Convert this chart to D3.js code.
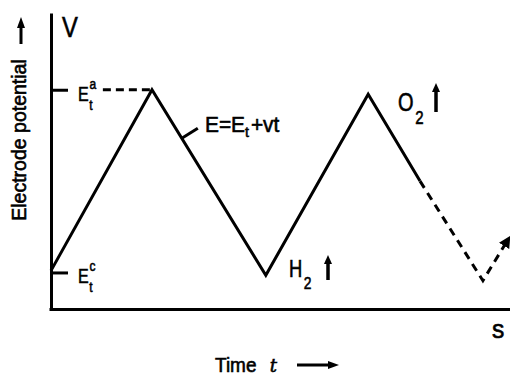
<!DOCTYPE html>
<html>
<head>
<meta charset="utf-8">
<script src="https://cdn.jsdelivr.net/npm/d3@7"></script>
<style>
  html, body { margin: 0; padding: 0; background: #fff; }
  svg { display: block; }
  text { fill: #000; stroke: #000; stroke-width: 0.6px; font-family: "Liberation Sans", Arial, sans-serif; }
</style>
</head>
<body>
<svg id="chart" width="510" height="376"></svg>
<script>
// Triangular potential sweep: electrode potential E against time t
// Potential is expressed relative to the cathodic (Et^c = 0) and anodic (Et^a = 1) turning points.
const sweepTime      = [0, 2.2, 4.68, 6.91, 8.04];
const sweepPotential = [0.01, 1.0, -0.015, 0.975, 0.5];

// continuation of the sweep, drawn dashed
const nextTime      = [8.04, 9.41, 9.98];
const nextPotential = [0.5, -0.045, 0.19];

// turning-point levels marked on the potential axis
const levelNames  = ["a", "c"];
const levelValues = [1, 0];

// dashed guide from the Et^a label to the first anodic peak
const guideTime      = [1.13, 2.17];
const guidePotential = [1, 1];

const svg = d3.select("#chart");

const x = d3.scaleLinear().domain([0, 10]).range([51, 510]);
const y = d3.scaleLinear().domain([-0.2, 1.42]).range([309, 13]);

// arrowhead marker
const defs = svg.append("defs");
defs.append("marker")
  .attr("id", "head")
  .attr("viewBox", "0 0 10 10")
  .attr("refX", 8).attr("refY", 5)
  .attr("markerWidth", 4).attr("markerHeight", 4)
  .attr("markerUnits", "strokeWidth")
  .attr("orient", "auto")
  .append("path").attr("d", "M0,0 L10,5 L0,10 z").attr("fill", "#000");

// potential axis with inward ticks at the turning points
const yAxis = svg.append("g")
  .attr("transform", `translate(${x(0)},0)`)
  .call(d3.axisRight(y).tickValues(levelValues).tickSize(17).tickSizeOuter(0).tickFormat(""));
yAxis.select(".domain").attr("stroke", "#000").attr("stroke-width", 3);
yAxis.selectAll(".tick line").attr("stroke", "#000").attr("stroke-width", 3);

// time axis
const xAxis = svg.append("g")
  .attr("transform", `translate(0,${y(-0.2)})`)
  .call(d3.axisBottom(d3.scaleLinear().domain([0, 10]).range([x(0) - 2, x(10)])).tickValues([]).tickSizeOuter(0));
xAxis.select(".domain").attr("stroke", "#000").attr("stroke-width", 3);

const line = d3.line().x(d => x(d[0])).y(d => y(d[1]));

// guide to the anodic level
svg.append("path")
  .datum(d3.zip(guideTime, guidePotential))
  .attr("d", line)
  .attr("fill", "none").attr("stroke", "#000").attr("stroke-width", 3)
  .attr("stroke-dasharray", "8,5");

// sweep
svg.append("path")
  .datum(d3.zip(sweepTime, sweepPotential))
  .attr("d", line)
  .attr("fill", "none").attr("stroke", "#000").attr("stroke-width", 3)
  .attr("stroke-linejoin", "miter");

svg.append("path")
  .datum(d3.zip(nextTime, nextPotential))
  .attr("d", line)
  .attr("fill", "none").attr("stroke", "#000").attr("stroke-width", 3)
  .attr("stroke-dasharray", "8,6")
  .attr("marker-end", "url(#head)");

// leader from the descending branch to the sweep equation
const lt = 2.85;
const lE = 1 + (lt - 2.2) / (4.68 - 2.2) * (-0.015 - 1);
svg.append("line")
  .attr("x1", x(lt)).attr("y1", y(lE))
  .attr("x2", x(lt) + 16).attr("y2", y(lE) - 10)
  .attr("stroke", "#000").attr("stroke-width", 3);

// condensed text helper: horizontally compressed by factor k
function narrowText(xPos, yPos, size, k) {
  return svg.append("text")
    .attr("transform", `translate(${xPos},${yPos}) scale(${k},1)`)
    .attr("font-size", size);
}

// axis letters
narrowText(62, 37, 29, 0.82).text("V");
narrowText(492, 338, 26, 0.95).text("s");

// turning-point labels Et^a, Et^c (superscript above, subscript below)
levelNames.forEach((n, i) => {
  const yb = y(levelValues[i]) + 11;
  const t = narrowText(78, yb, 20, 0.8);
  t.append("tspan").text("E");
  t.append("tspan").attr("font-size", 15).attr("dx", 1).attr("dy", -12).text(n);
  t.append("tspan").attr("font-size", 15).attr("x", 14).attr("dy", 21).text("t");
});

// sweep equation
const eq = narrowText(205, 132, 22, 0.95);
eq.append("tspan").text("E=E");
eq.append("tspan").attr("font-size", 15).attr("dy", 5).text("t");
eq.append("tspan").attr("dy", -5).attr("dx", 2).text("+vt");

// gas evolution labels with upward arrows
function gasLabel(sym, xPos, yBase, size, arrowX, arrowTop, arrowBottom) {
  const t = narrowText(xPos, yBase, size, 0.8);
  t.append("tspan").text(sym);
  t.append("tspan").attr("font-size", size * 0.75).attr("dy", size * 0.5).attr("dx", 2).text("2");
  svg.append("line")
    .attr("x1", arrowX).attr("y1", arrowBottom)
    .attr("x2", arrowX).attr("y2", arrowTop + 6)
    .attr("stroke", "#000").attr("stroke-width", 3.5);
  svg.append("path")
    .attr("d", `M${arrowX - 4},${arrowTop + 9} L${arrowX},${arrowTop} L${arrowX + 4},${arrowTop + 9} Z`)
    .attr("fill", "#000");
}
gasLabel("H", 289, 277, 23, 328, 255, 280);
gasLabel("O", 398, 111, 25, 436, 83, 112);

// axis titles
svg.append("text")
  .attr("transform", "translate(26,140) rotate(-90)")
  .attr("text-anchor", "middle").attr("font-size", 19.5)
  .text("Electrode potential");
svg.append("line")
  .attr("x1", 21).attr("y1", 44).attr("x2", 21).attr("y2", 25)
  .attr("stroke", "#000").attr("stroke-width", 3);
svg.append("path").attr("d", "M17,28 L21,17 L25,28 Z").attr("fill", "#000");

const tt = narrowText(215, 372, 20, 0.95);
tt.append("tspan").text("Time");
tt.append("tspan").attr("dx", 14).attr("font-style", "italic")
  .attr("font-family", "DejaVu Serif").attr("font-size", 19).text("t");
svg.append("line")
  .attr("x1", 297).attr("y1", 365).attr("x2", 330).attr("y2", 365)
  .attr("stroke", "#000").attr("stroke-width", 3);
svg.append("path").attr("d", "M328,361 L339,365 L328,369 Z").attr("fill", "#000");
</script>
</body>
</html>
